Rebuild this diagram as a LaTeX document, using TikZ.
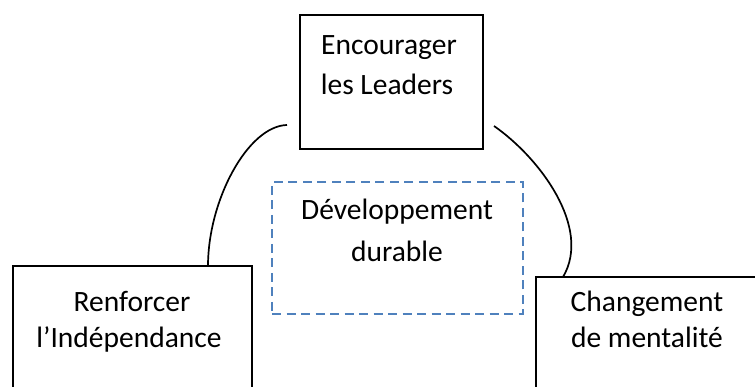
\documentclass[tikz,border=0pt]{standalone}
\usepackage{fontspec}
\setmainfont{Carlito}
\definecolor{dashblue}{RGB}{79,129,189}
\tikzset{
  box/.style={draw=black, line width=1.8pt, rectangle, inner sep=0pt},
  dbox/.style={draw=dashblue, line width=2.4pt, dash pattern=on 9pt off 5.5pt, rectangle, inner sep=0pt},
  txt/.style={anchor=base, inner sep=0pt, font=\fontsize{29.5}{36}\selectfont},
  arc/.style={draw=black, line width=1.7pt}
}
\begin{document}
\begin{tikzpicture}[x=1pt,y=-1pt]
\useasboundingbox (0,0) rectangle (755,387);
\clip (0,0) rectangle (755,387);
\fill[white] (0,0) rectangle (755,387);
% boxes
\node[box, minimum width=183pt, minimum height=134pt] (top) at (391.5,82) {};
\node[box, minimum width=239pt, minimum height=160pt] (left) at (132.5,346) {};
\node[box, minimum width=240pt, minimum height=150pt] (right) at (656,352) {};
\node[dbox, minimum width=251pt, minimum height=132pt] (mid) at (397.5,248) {};
% texts
\node[txt] (t1) at (389,55) {Encourager};
\node[txt] (t2) at (387,95) {les Leaders};
\node[txt] (l1) at (132,312) {Renforcer};
\node[txt] (l2) at (129,347) {l’Indépendance};
\node[txt] (r1) at (647,312) {Changement};
\node[txt] (r2) at (647,348) {de mentalité};
\node[txt] (m1) at (397,220) {Développement};
\node[txt] (m2) at (397,262) {durable};
% connectors
\coordinate (la) at (287,125);
\coordinate (lb) at (208,266);
\coordinate (ra) at (494,126);
\coordinate (rb) at (563,277);
\draw[arc] (la) .. controls (248,126) and (208,200) .. (lb);
\draw[arc] (ra) .. controls (540,158) and (592,228) .. (rb);
\end{tikzpicture}
\end{document}
